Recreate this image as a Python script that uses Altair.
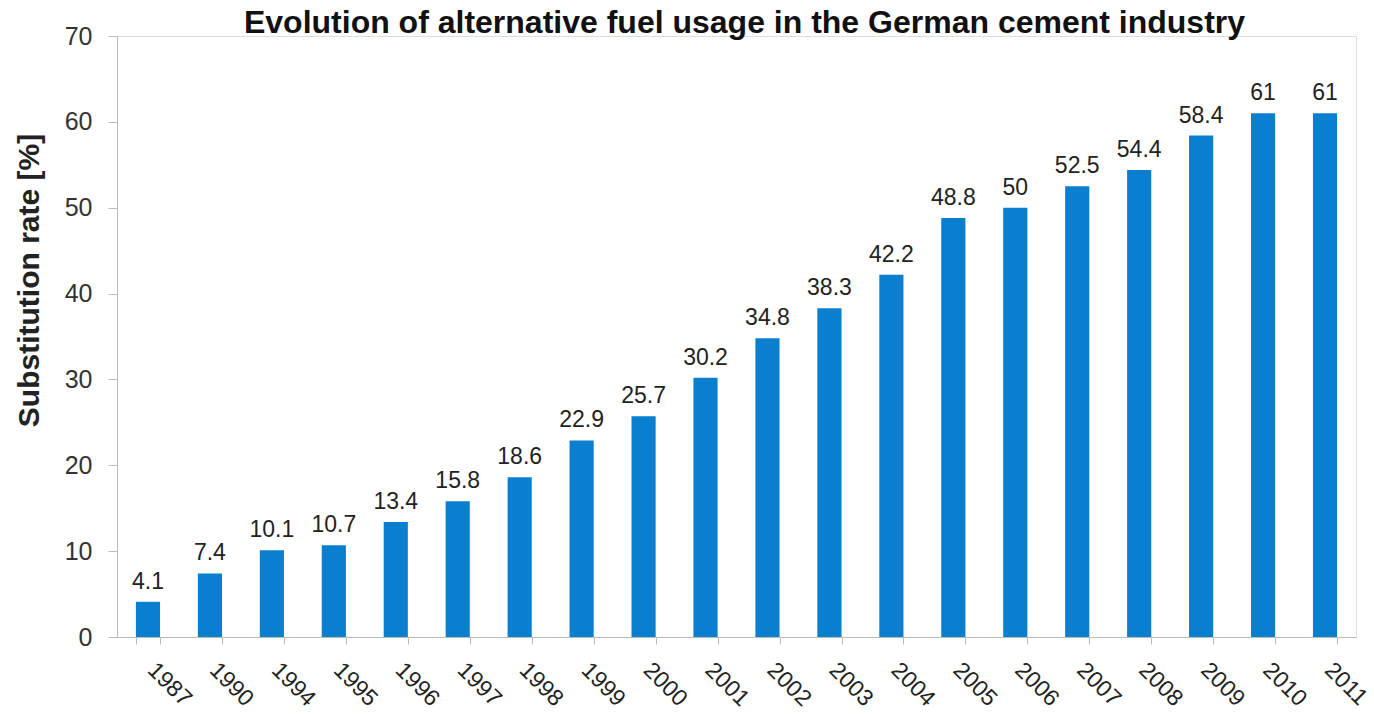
import altair as alt
import pandas as pd

years = ["1987", "1990", "1994", "1995", "1996", "1997", "1998", "1999", "2000", "2001",
         "2002", "2003", "2004", "2005", "2006", "2007", "2008", "2009", "2010", "2011"]
values = [4.1, 7.4, 10.1, 10.7, 13.4, 15.8, 18.6, 22.9, 25.7, 30.2,
          34.8, 38.3, 42.2, 48.8, 50, 52.5, 54.4, 58.4, 61, 61]
labels = ["4.1", "7.4", "10.1", "10.7", "13.4", "15.8", "18.6", "22.9", "25.7", "30.2",
          "34.8", "38.3", "42.2", "48.8", "50", "52.5", "54.4", "58.4", "61", "61"]

df = pd.DataFrame({"year": years, "value": values, "label": labels})

x = alt.X("year:N", sort=years, title=None,
          scale=alt.Scale(paddingInner=0.61, paddingOuter=0.305),
          axis=alt.Axis(labelAngle=45, labelAlign="left", labelBaseline="middle",
                        labelFontSize=23, labelColor="#222", labelFont="Liberation Sans",
                        labelPadding=22, labelOffset=3, tickBand="extent", tickSize=7,
                        tickColor="#bbbbbb", domainColor="#bbbbbb"))
y = alt.Y("value:Q", title="Substitution rate [%]",
          scale=alt.Scale(domain=[0, 70], nice=False),
          axis=alt.Axis(values=list(range(0, 71, 10)), grid=False, labelFontSize=25,
                        labelColor="#333", labelFont="Liberation Sans", labelPadding=16,
                        tickSize=9, tickColor="#bbbbbb", domainColor="#bbbbbb",
                        titleFontSize=30, titleFont="Liberation Sans", titleFontWeight="bold",
                        titleColor="#222", titlePadding=20, titleY=244))

bars = alt.Chart(df).mark_bar(color="#0a7fd0").encode(x=x, y=y)
text = alt.Chart(df).mark_text(dy=-13, baseline="alphabetic", fontSize=23,
                               font="Liberation Sans", color="#222").encode(
    x=alt.X("year:N", sort=years), y="value:Q", text="label:N")

chart = (bars + text).properties(
    width=1239, height=601,
    title=alt.Title("Evolution of alternative fuel usage in the German cement industry",
                    fontSize=32, font="Liberation Sans", fontWeight="bold", color="#111",
                    anchor="middle", offset=-16, dx=8),
    autosize="none",
    padding={"left": 117, "top": 36, "right": 18, "bottom": 77},
).configure_view(stroke=None).configure(background="white")

chart.save("out.html", embed_options={"renderer": "svg", "actions": False})
